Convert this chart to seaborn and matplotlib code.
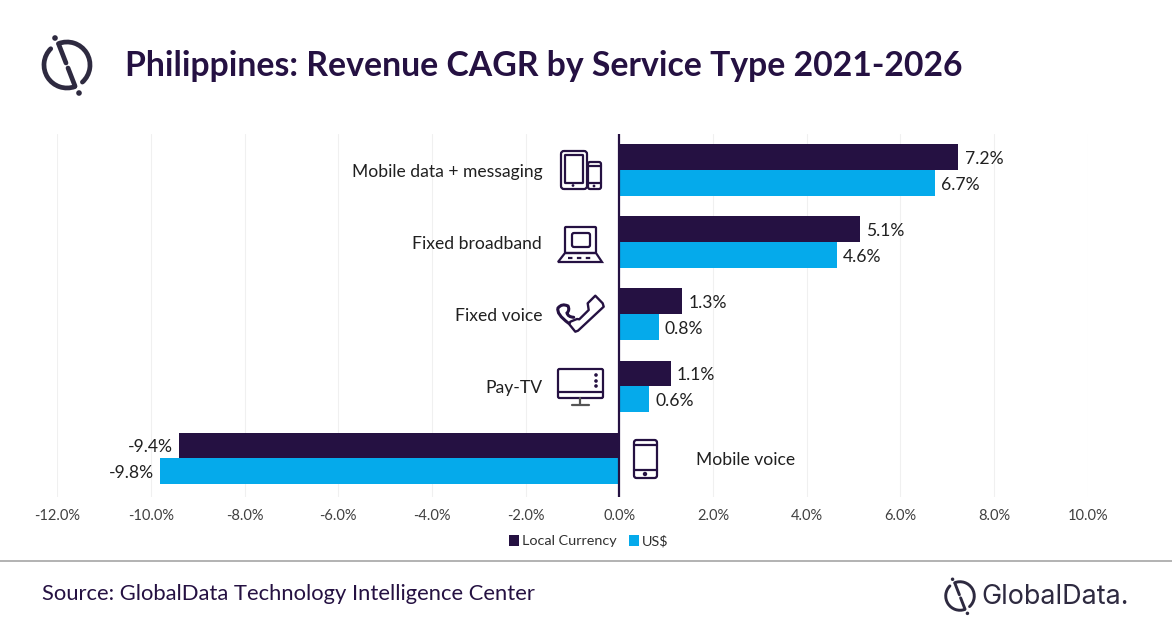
import pandas as pd
import seaborn as sns
import matplotlib.pyplot as plt
from matplotlib.patches import Arc, Circle, FancyBboxPatch, Polygon
from matplotlib.path import Path
from matplotlib.patches import PathPatch

# --- datos ---
services = ["Mobile data + messaging", "Fixed broadband", "Fixed voice", "Pay-TV", "Mobile voice"]
local_currency = [7.24, 5.14, 1.34, 1.10, -9.40]
us_dollar = [6.74, 4.64, 0.84, 0.64, -9.80]
series_names = ["Local Currency", "US$"]
x_ticks = [-12, -10, -8, -6, -4, -2, 0, 2, 4, 6, 8, 10]

DARK = "#251142"
BLUE = "#05AAEB"
LOGO = "#2E2A40"
FONT = "Lato"

df = pd.DataFrame({
    "service": services * 2,
    "cagr": local_currency + us_dollar,
    "currency": [series_names[0]] * 5 + [series_names[1]] * 5,
})

sns.set_theme(style="white")
plt.rcParams["font.family"] = [FONT, "DejaVu Sans"]

W, H = 1172, 628
fig = plt.figure(figsize=(W / 100, H / 100), dpi=100)
ax = fig.add_axes([57.2 / W, 1 - 497 / H, (1087.6 - 57.2) / W, (497 - 134) / H])

sns.barplot(data=df, y="service", x="cagr", hue="currency", order=services,
            hue_order=series_names, palette=[DARK, BLUE], width=0.71, gap=0,
            orient="h", saturation=1, linewidth=0, ax=ax, legend=True)

ax.set_xlim(-12, 10)
ax.set_ylim(4.54, -0.5)
ax.set_xticks(x_ticks)
ax.set_xticklabels([f"{t:.1f}%" for t in x_ticks], fontsize=10.5, color="#404040")
ax.set_yticks([])
ax.set_xlabel("")
ax.set_ylabel("")
ax.tick_params(axis="x", length=0, pad=9)
ax.xaxis.grid(True, color="#F0F0F0", lw=0.8)
ax.set_axisbelow(True)
sns.despine(ax=ax, left=True, bottom=True)
ax.axvline(0, color=DARK, lw=1.6, zorder=5)

for cont in ax.containers[:2]:
    for lab in ax.bar_label(cont, fmt="%.1f%%", padding=4.5, fontsize=12.6, color="#202020"):
        lab.xyann = (lab.xyann[0], lab.xyann[1] - 1.5)

# etiquetas de categoria, a los dos lados del cero
for i, name in enumerate(services):
    if local_currency[i] >= 0:
        ax.text(-1.645, i + 0.03, name, ha="right", va="center", fontsize=12.6, color="#202020")
    else:
        ax.text(1.645, i + 0.03, name, ha="left", va="center", fontsize=12.6, color="#202020")

ax.legend(handles=ax.get_legend().legend_handles, labels=series_names, loc="center",
          bbox_to_anchor=(588.5 / W, 1 - 541 / H), bbox_transform=fig.transFigure,
          ncol=2, frameon=False, fontsize=10.4, handlelength=0.7, handleheight=0.8,
          handletextpad=0.2, columnspacing=0.85, labelcolor="#303030")

# --- capa en pixeles para iconos, logo y textos de cabecera ---
ov = fig.add_axes([0, 0, 1, 1], facecolor="none")
ov.set_xlim(0, W)
ov.set_ylim(H, 0)
ov.axis("off")


def box(x0, y0, x1, y1, r=2, lw=1.6, color=DARK):
    ov.add_patch(FancyBboxPatch((x0 + r, y0 + r), x1 - x0 - 2 * r, y1 - y0 - 2 * r,
                                boxstyle=f"round,pad={r},rounding_size={r}",
                                fc="none", ec=color, lw=lw))


def line(xs, ys, lw=1.6, color=DARK):
    ov.plot(xs, ys, color=color, lw=lw, solid_capstyle="round")


def dot(x, y, r=1.4, color=DARK):
    ov.add_patch(Circle((x, y), r, fc=color, ec="none"))


def logo(cx, cy, s, color=LOGO):
    lw = 3.4 * s
    d = 46 * s
    ov.add_patch(Arc((cx, cy), d, d, theta1=-112, theta2=48, color=color, lw=lw, capstyle="round"))
    ov.add_patch(Arc((cx, cy), d, d, theta1=70, theta2=225, color=color, lw=lw, capstyle="round"))
    line([cx - 8 * s, cx - 1 * s], [cy - 20 * s, cy - 2 * s], lw=lw, color=color)
    line([cx + 1 * s, cx + 8 * s], [cy + 3 * s, cy + 21 * s], lw=lw, color=color)
    dot(cx - 12 * s, cy - 27 * s, 2.8 * s, color)
    dot(cx + 12 * s, cy + 28 * s, 2.8 * s, color)


# tablet + telefono
box(561, 151, 587, 189, r=3)
box(565, 155, 583, 183, r=0.5)
dot(573, 185.5)
box(588, 162, 601, 189, r=2)
line([588, 601], [165.5, 165.5])
line([588, 601], [183, 183])
dot(594, 186)

# portatil
box(565, 227, 596, 253, r=1)
box(572, 233, 590, 247, r=2)
ov.add_patch(Polygon([(565, 253), (558, 262), (602, 262), (596, 253)], closed=True, fc="none", ec=DARK, lw=1.6))
ov.plot([568, 593], [257.5, 257.5], color=DARK, lw=1.6, ls=(0, (2, 2)))

# telefono fijo
handset = [(587.7, 303.3), (595.3, 295.7), (602.7, 303.3), (603.7, 306.7), (578, 330.7), (575.3, 331.7),
           (569.3, 324.3), (570.3, 321.7), (577, 319), (579.3, 319.3), (588.7, 310)]
ov.add_patch(Polygon(handset, closed=True, fc="none", ec=DARK, lw=1.7, joinstyle="round"))
cord = Path([(568.7, 323.3), (556, 314), (558, 308), (562, 303), (568, 306), (570, 310), (567, 313), (568, 317), (573.7, 317.3)],
            [Path.MOVETO] + [Path.CURVE3] * 8)
ov.add_patch(PathPatch(cord, fc="none", ec=DARK, lw=2.2, capstyle="round"))

# television
box(558, 369, 603, 398, r=1.5)
line([558, 603], [392, 392])
for yy in (375, 381, 386):
    dot(596, yy, 1.8)
line([580, 580], [398, 404], color="#555555")
line([572, 589], [405, 405], color="#555555")

# movil
box(634, 440, 657, 478, r=2.5)
line([634, 657], [445, 445])
line([634, 657], [470, 470])
dot(645, 474, 2.2)

# cabecera y pie
ov.text(125, 66, "Philippines: Revenue CAGR by Service Type 2021-2026", fontsize=24.35, fontweight="bold",
        color=DARK, ha="left", va="center")
logo(67, 65, 1.0)
ov.plot([0, W], [561, 561], color="#A6A6A6", lw=1.2)
ov.text(42, 594, "Source: GlobalData Technology Intelligence Center", fontsize=15.85, color=DARK,
        ha="left", va="center")
logo(960, 596, 0.62)
ov.text(981, 597, "GlobalData.", fontsize=19.4, color=LOGO, ha="left", va="center", family="Inter")

fig.savefig("out.png", dpi=100)
plt.close(fig)
